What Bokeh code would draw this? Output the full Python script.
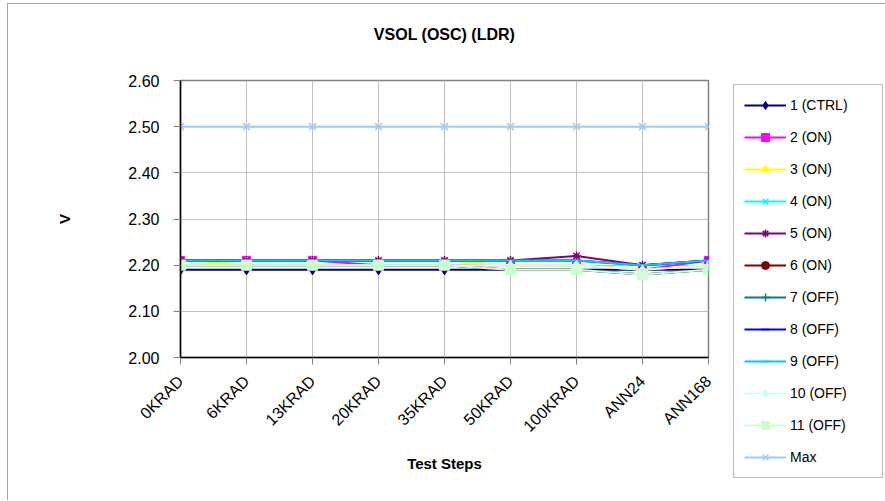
from bokeh.plotting import figure
from bokeh.models import Range1d, FixedTicker, Legend, LegendItem, NumeralTickFormatter, Title
from bokeh.embed import file_html
from bokeh.resources import INLINE

steps = ["0KRAD", "6KRAD", "13KRAD", "20KRAD", "35KRAD", "50KRAD", "100KRAD", "ANN24", "ANN168"]
y_ticks = [2.00, 2.10, 2.20, 2.30, 2.40, 2.50, 2.60]

s1_ctrl = [2.19, 2.19, 2.19, 2.19, 2.19, 2.19, 2.19, 2.19, 2.19]
s2_on = [2.21, 2.21, 2.21, 2.20, 2.20, 2.20, 2.20, 2.19, 2.21]
s3_on = [2.20, 2.21, 2.21, 2.21, 2.21, 2.20, 2.20, 2.19, 2.20]
s4_on = [2.21, 2.21, 2.21, 2.21, 2.21, 2.21, 2.21, 2.20, 2.21]
s5_on = [2.21, 2.21, 2.21, 2.21, 2.21, 2.21, 2.22, 2.20, 2.21]
s6_on = [2.20, 2.20, 2.20, 2.20, 2.20, 2.19, 2.19, 2.18, 2.19]
s7_off = [2.20, 2.20, 2.20, 2.20, 2.20, 2.19, 2.19, 2.18, 2.19]
s8_off = [2.21, 2.21, 2.21, 2.21, 2.21, 2.21, 2.21, 2.20, 2.21]
s9_off = [2.21, 2.21, 2.21, 2.21, 2.21, 2.21, 2.21, 2.20, 2.21]
s10_off = [2.20, 2.20, 2.20, 2.20, 2.20, 2.20, 2.20, 2.19, 2.20]
s11_off = [2.20, 2.20, 2.20, 2.20, 2.20, 2.19, 2.19, 2.18, 2.19]
s_max = [2.50, 2.50, 2.50, 2.50, 2.50, 2.50, 2.50, 2.50, 2.50]

series = [
    ("1 (CTRL)", s1_ctrl, "#000080", "diamond", 10),
    ("2 (ON)", s2_on, "#FF00FF", "square", 8),
    ("3 (ON)", s3_on, "#FFFF00", "triangle", 8),
    ("4 (ON)", s4_on, "#00FFFF", "x", 8),
    ("5 (ON)", s5_on, "#800080", "asterisk", 9),
    ("6 (ON)", s6_on, "#800000", "circle", 8),
    ("7 (OFF)", s7_off, "#008080", "cross", 8),
    ("8 (OFF)", s8_off, "#0000FF", "dash", 8),
    ("9 (OFF)", s9_off, "#00CCFF", "dash", 9),
    ("10 (OFF)", s10_off, "#CCFFFF", "diamond", 10),
    ("11 (OFF)", s11_off, "#CCFFCC", "square", 10),
    ("Max", s_max, "#99CCFF", "x", 10),
]

xs = list(range(len(steps)))

p = figure(frame_width=528, frame_height=277, output_backend="svg", toolbar_location=None,
           x_range=Range1d(0, len(steps) - 1), y_range=Range1d(2.0, 2.6),
           min_border_left=180, min_border_right=176, min_border_top=80,
           min_border_bottom=143, title=None)

# outer chart-area border: only its left and top edges fall inside the window
p.border_fill_color = None
p.styles = {"background": ("linear-gradient(#a6a6a6, #a6a6a6) 7px 3px / 1px 100% no-repeat, "
                           "linear-gradient(#a6a6a6, #a6a6a6) 7px 3px / 100% 1px no-repeat, "
                           "#ffffff")}

# spacer (closest to frame) then the visible title above it
spacer = Title(text=" ", text_font_size="10px", standoff=20)
p.add_layout(spacer, "above")
title = Title(text="VSOL (OSC) (LDR)", align="center", text_font="Liberation Sans",
              text_font_size="16px", text_font_style="bold", text_color="black",
              standoff=10)
p.add_layout(title, "above")

p.outline_line_color = "#808080"
p.outline_line_width = 1.5

p.xaxis.ticker = FixedTicker(ticks=xs)
p.xaxis.major_label_overrides = {i: s for i, s in enumerate(steps)}
p.xaxis.major_label_orientation = 0.7854
p.yaxis.ticker = FixedTicker(ticks=y_ticks)
p.yaxis.formatter = NumeralTickFormatter(format="0.00")

for ax in (p.xaxis[0], p.yaxis[0]):
    ax.axis_line_color = "black"
    ax.axis_line_width = 1.5
    ax.major_tick_line_color = "#808080"
    ax.major_tick_out = 7
    ax.major_tick_in = 0
    ax.minor_tick_line_color = None
    ax.major_label_text_font = "Liberation Sans"
    ax.major_label_text_font_size = "16px"
    ax.major_label_text_color = "black"
    ax.axis_label_text_font = "Liberation Sans"
    ax.axis_label_text_font_style = "bold"
    ax.axis_label_text_font_size = "15px"
    ax.axis_label_text_color = "black"

p.xaxis.axis_label = "Test Steps"
p.yaxis.axis_label = "V"
p.yaxis.major_label_standoff = 14
p.yaxis.axis_label_standoff = 52
p.xaxis.major_label_standoff = 14
p.xaxis.axis_label_standoff = 11

p.xgrid.grid_line_color = "#c0c0c0"
p.ygrid.grid_line_color = "#c0c0c0"

items = []
for name, vals, color, marker, size in series:
    r_line = p.line(xs, vals, line_color=color, line_width=2)
    if marker in ("x", "asterisk", "cross", "dash"):
        r_pt = p.scatter(xs, vals, marker=marker, size=size, line_color=color,
                         fill_color=color, line_width=1.5)
    else:
        r_pt = p.scatter(xs, vals, marker=marker, size=size, line_color=color,
                         fill_color=color)
    items.append(LegendItem(label=name, renderers=[r_line, r_pt]))

legend = Legend(items=items, location=(25, -121))
legend.label_text_font = "Liberation Sans"
legend.label_text_font_size = "14px"
legend.label_text_color = "black"
legend.glyph_width = 42
legend.glyph_height = 20
legend.label_height = 20
legend.spacing = 12
legend.padding = 10
legend.margin = 0
legend.label_standoff = 4
legend.label_width = 82
legend.border_line_color = "#808080"
legend.border_line_width = 1
legend.background_fill_color = "white"
legend.background_fill_alpha = 1
p.add_layout(legend, "right")

open("out.html", "w").write(file_html(p, INLINE))
